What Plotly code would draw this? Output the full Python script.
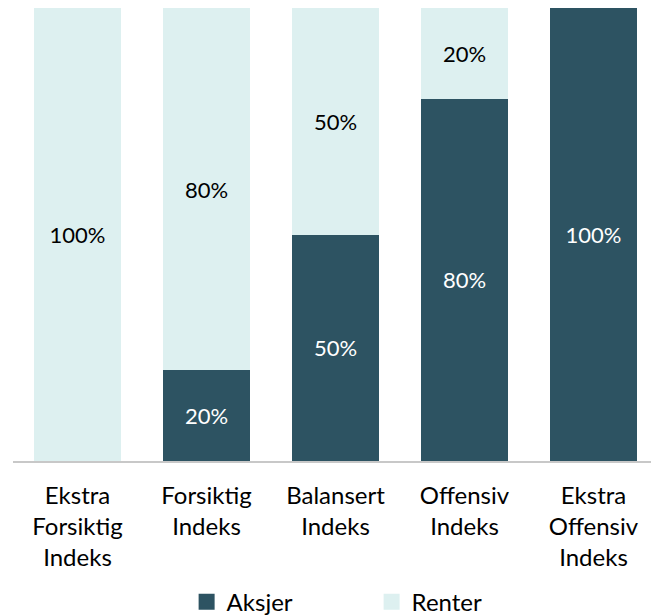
import plotly.graph_objects as go

categories = ["Ekstra<br>Forsiktig<br>Indeks", "Forsiktig<br>Indeks", "Balansert<br>Indeks",
              "Offensiv<br>Indeks", "Ekstra<br>Offensiv<br>Indeks"]
aksjer = [0, 20, 50, 80, 100]
renter = [100, 80, 50, 20, 0]
series_names = ["Aksjer", "Renter"]

FONT = "Lato"
DARK = "#2D5362"
LIGHT = "#DDF0F0"

def labels(vals):
    return [f"{v}%" if v > 0 else "" for v in vals]

fig = go.Figure()
for name, vals, col, tcol in [(series_names[0], aksjer, DARK, "white"),
                              (series_names[1], renter, LIGHT, "black")]:
    fig.add_trace(go.Bar(x=categories, y=vals, name=name, marker_color=col,
                         marker_line_width=0, text=labels(vals), textposition="inside",
                         insidetextanchor="middle", textangle=0, showlegend=False,
                         legendgroup=name,
                         insidetextfont=dict(color=tcol, size=22, family=FONT),
                         hoverinfo="skip"))
for name, col in [(series_names[0], DARK), (series_names[1], LIGHT)]:
    fig.add_trace(go.Scatter(x=[None], y=[None], mode="markers", name=name,
                             legendgroup=name,
                             marker=dict(symbol="square", size=16, color=col)))

# page body has an 8px default margin, so the figure is 8px smaller on each side used
fig.update_layout(
    barmode="stack", bargap=0.326,
    width=651, height=608,
    margin=dict(l=5, r=1, t=0, b=155, autoexpand=False),
    paper_bgcolor="white", plot_bgcolor="white",
    font=dict(family=FONT, size=22, color="black"),
    uniformtext=dict(mode="show", minsize=10),
    showlegend=True,
    legend=dict(orientation="h", x=0.556, xanchor="center", y=-0.262, yanchor="top",
                font=dict(size=24, family=FONT, color="black"),
                entrywidth=140, entrywidthmode="pixels", itemwidth=30,
                traceorder="normal"),
    xaxis=dict(showline=True, linecolor="#C8C8C8", linewidth=1.5, ticks="outside",
               ticklen=12, tickcolor="rgba(0,0,0,0)", showgrid=False, automargin=False,
               tickfont=dict(size=24, family=FONT, color="black")),
    yaxis=dict(visible=False, range=[0, 100], automargin=False),
)

fig.write_html("out.html")
